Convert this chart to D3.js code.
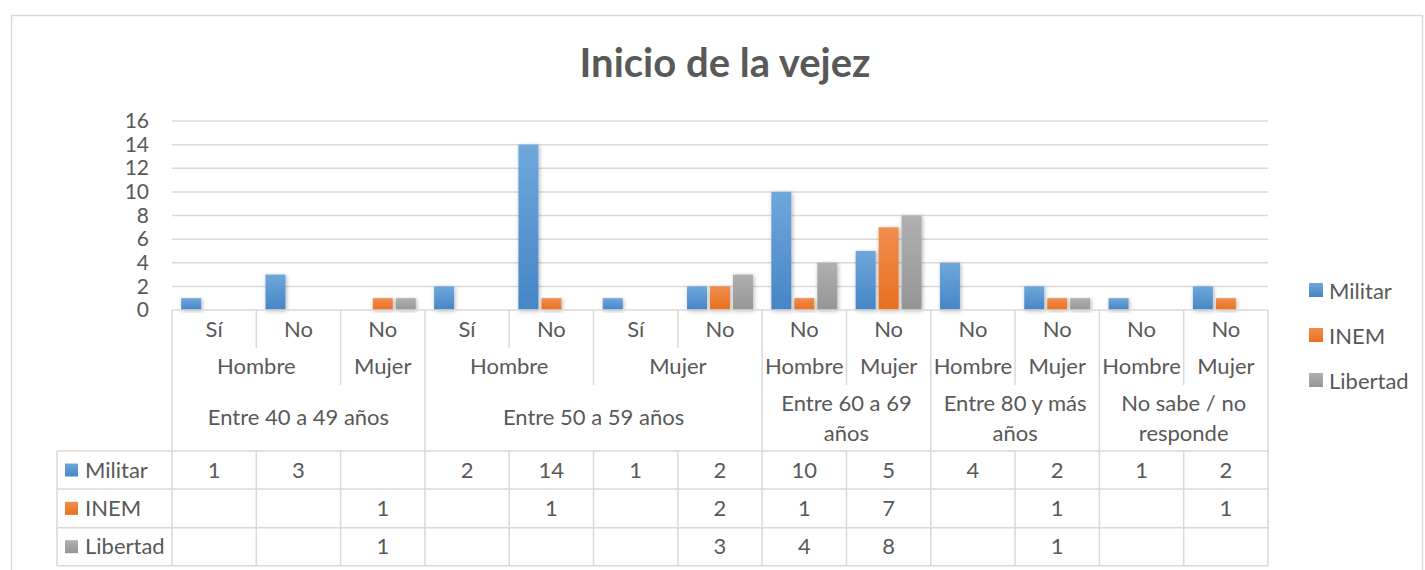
<!DOCTYPE html>
<html><head><meta charset="utf-8">
<script src="https://cdn.jsdelivr.net/npm/d3@7"></script>
<style>body{margin:0;background:#fff}svg{display:block}text{font-family:Lato,"Open Sans",sans-serif;fill:#595959}</style>
</head><body>
<script>
const leafLabels = ["Sí","No","No","Sí","No","Sí","No","No","No","No","No","No","No"];
const genderGroups = [["Hombre",2],["Mujer",1],["Hombre",2],["Mujer",2],["Hombre",1],["Mujer",1],["Hombre",1],["Mujer",1],["Hombre",1],["Mujer",1]];
const ageGroups = [[["Entre 40 a 49 años"],3],[["Entre 50 a 59 años"],4],[["Entre 60 a 69","años"],2],[["Entre 80 y más","años"],2],[["No sabe / no","responde"],2]];
const seriesNames = ["Militar","INEM","Libertad"];
const militar  = [1,3,null,2,14,1,2,10,5,4,2,1,2];
const inem     = [null,null,1,null,1,null,2,1,7,null,1,null,1];
const libertad = [null,null,1,null,null,null,3,4,8,null,1,null,null];
const yTicks = [0,2,4,6,8,10,12,14,16];
const title = "Inicio de la vejez";

const W=1425,H=570;
const colors=[["#6fa7db","#4685c6"],["#f18d4e","#e8701f"],["#b0b0b0","#959595"]];
const values=[militar,inem,libertad];
const L=172,R=1268,yTop=121,yBot=310;
const svg=d3.select("body").append("svg").attr("width",W).attr("height",H);
const defs=svg.append("defs");
colors.forEach((c,i)=>{const g=defs.append("linearGradient").attr("id","g"+i).attr("x1",0).attr("y1",0).attr("x2",0).attr("y2",1);
 g.append("stop").attr("offset","0%").attr("stop-color",c[0]);g.append("stop").attr("offset","100%").attr("stop-color",c[1]);});
const f=defs.append("filter").attr("id","sh").attr("x","-30%").attr("y","-10%").attr("width","160%").attr("height","130%");
f.append("feDropShadow").attr("dx",1).attr("dy",1).attr("stdDeviation",2).attr("flood-color","#000").attr("flood-opacity",0.3);

svg.append("rect").attr("x",11.5).attr("y",15.5).attr("width",1411).attr("height",600).attr("fill","none").attr("stroke","#d9d9d9").attr("stroke-width",1.5);

svg.append("text").attr("x",725).attr("y",77).attr("text-anchor","middle").style("font-size","40px").style("font-weight","bold").text(title);

const idx=d3.range(leafLabels.length);
const x0=d3.scaleBand().domain(idx).range([L,R]);
const x1=d3.scaleBand().domain(seriesNames).range([0,x0.bandwidth()]).paddingInner(0.13).paddingOuter(0.4);
const y=d3.scaleLinear().domain([0,16]).range([yBot,yTop]);

svg.append("g").selectAll("line").data(yTicks.slice(1)).join("line")
 .attr("x1",L).attr("x2",R).attr("y1",d=>y(d)).attr("y2",d=>y(d)).attr("stroke","#d9d9d9").attr("stroke-width",1.5);
const ya=svg.append("g").attr("transform",`translate(${L},0)`).call(d3.axisLeft(y).tickValues(yTicks).tickSize(0).tickPadding(23));
ya.select(".domain").remove();
ya.selectAll("text").style("font-size","21px").style("font-family","Lato").attr("fill","#595959");

seriesNames.forEach((s,si)=>{
 svg.append("g").selectAll("rect").data(idx.filter(i=>values[si][i]!=null)).join("rect")
  .attr("x",i=>x0(i)+x1(s)).attr("width",x1.bandwidth())
  .attr("y",i=>y(values[si][i])).attr("height",i=>yBot-y(values[si][i]))
  .attr("fill",`url(#g${si})`).attr("filter","url(#sh)");
});

const lc="#d9d9d9";
const line=(a,b,c,d)=>svg.append("line").attr("x1",a).attr("y1",b).attr("x2",c).attr("y2",d).attr("stroke",lc).attr("stroke-width",1.5);
line(L,yBot,R,yBot);
const r1=348,r2=385,r3=451;
const bounds=new Map();
idx.forEach(i=>bounds.set(i,r1));
let c=0;genderGroups.forEach(g=>{c+=g[1];bounds.set(c,r2);});
c=0;bounds.set(0,r3);ageGroups.forEach(g=>{c+=g[1];bounds.set(c,r3);});
bounds.forEach((yb,i)=>{const xx=i<leafLabels.length?x0(i):R;line(xx,yBot,xx,yb);});

const tx=(xx,yy,t,sz)=>svg.append("text").attr("x",xx).attr("y",yy).attr("text-anchor","middle").attr("dominant-baseline","central").style("font-size",(sz||22)+"px").text(t);
idx.forEach(i=>tx(x0(i)+x0.bandwidth()/2,328,leafLabels[i]));
c=0;genderGroups.forEach(g=>{const xa=x0(c),xb=c+g[1]<leafLabels.length?x0(c+g[1]):R;tx((xa+xb)/2,365,g[0]);c+=g[1];});
c=0;ageGroups.forEach(g=>{const xa=x0(c),xb=c+g[1]<leafLabels.length?x0(c+g[1]):R;
 if(g[0].length==1)tx((xa+xb)/2,416,g[0][0]);else{tx((xa+xb)/2,402,g[0][0]);tx((xa+xb)/2,432,g[0][1]);}c+=g[1];});

const TL=57,rows=[451,489,527.7,565.7];
rows.forEach(r=>line(TL,r,R,r));
line(TL,451,TL,565.7);
idx.forEach(i=>line(x0(i),451,x0(i),565.7));line(R,451,R,565.7);
seriesNames.forEach((s,si)=>{
 const cy=(rows[si]+rows[si+1])/2;
 svg.append("rect").attr("x",65).attr("y",cy-6.5).attr("width",13).attr("height",13).attr("fill",`url(#g${si})`);
 svg.append("text").attr("x",85).attr("y",cy-1).attr("dominant-baseline","central").style("font-size","22px").text(s);
 idx.forEach(i=>{if(values[si][i]!=null)tx(x0(i)+x0.bandwidth()/2,cy-1,values[si][i]);});
});

const legY=[290,335,380];
seriesNames.forEach((s,si)=>{
 svg.append("rect").attr("x",1309).attr("y",legY[si]-7).attr("width",14).attr("height",14).attr("fill",`url(#g${si})`);
 svg.append("text").attr("x",1329).attr("y",legY[si]).attr("dominant-baseline","central").style("font-size","22px").text(s);
});
</script>
</body></html>
